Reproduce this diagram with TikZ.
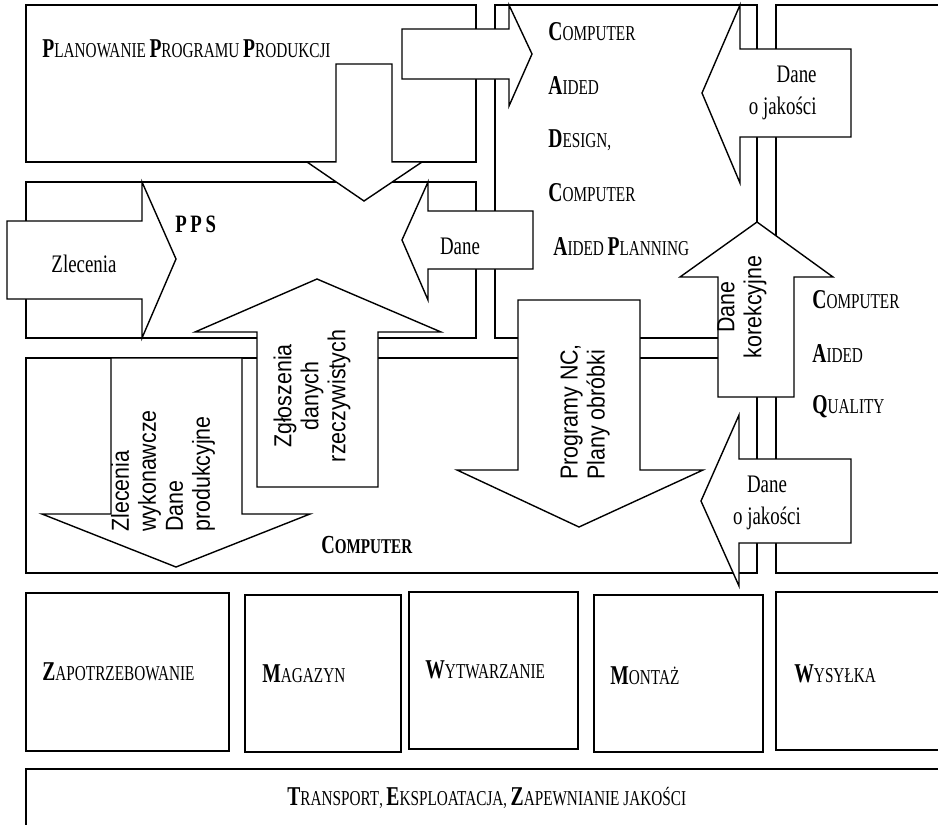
\documentclass[tikz,border=0pt]{standalone}
\usepackage{fontspec}
\setmainfont{Liberation Serif}
\newfontfamily\narrowrm[FakeStretch=0.75]{Liberation Serif}
\newfontfamily\capsrm[FakeStretch=0.72]{Liberation Serif}
\newfontfamily\narrowsf[FakeStretch=0.87]{Liberation Sans}
\usetikzlibrary{shadows}
\newcommand{\capword}[2]{{\fontsize{13.6}{16}\selectfont\bfseries #1}{\fontsize{10.6}{16}\selectfont #2}}
\newcommand{\boldcapword}[2]{{\bfseries\fontsize{13}{16}\selectfont #1}{\bfseries\fontsize{10.5}{16}\selectfont #2}}

\begin{document}
\begin{tikzpicture}[
    x=0.5pt, y=-0.5pt,
    box/.style={draw, fill=white, line width=0.7pt},
    shopbox/.style={box, drop shadow={shadow xshift=0.5pt, shadow yshift=-0.6pt, opacity=1, fill=black!60}},
    bigarrow/.style={draw, fill=white, line width=0.7pt, line join=miter},
    caps/.style={font=\capsrm, inner sep=0pt, anchor=base west},
    flow/.style={font=\narrowrm\fontsize{12.6}{16}\selectfont, inner sep=0pt},
    vflow/.style={font=\narrowsf\fontsize{12.3}{13.5}\selectfont, inner sep=0pt, rotate=90}
]
\clip (0,0) rectangle (938,825);

% systems
\draw[box] (26,5) rectangle (476,162);
\draw[box] (26,182) rectangle (476,338);
\draw[box] (495,5) rectangle (757,338);
\draw[box] (776,5) rectangle (960,573);
\draw[box] (26,358) rectangle (757,573);

% data flows
\draw[bigarrow] (336,64) -- (392,64) -- (392,162) -- (422,162) -- (364,201) -- (307,162) -- (336,162) -- cycle;
\draw[bigarrow] (402,29) -- (509,29) -- (509,5) -- (532,54) -- (509,106) -- (509,79) -- (402,79) -- cycle;
\draw[bigarrow] (7,221) -- (142,221) -- (142,182) -- (176,259) -- (142,338) -- (142,299) -- (7,299) -- cycle;
\draw[bigarrow] (533,211) -- (428,211) -- (428,182) -- (402,240) -- (428,300) -- (428,269) -- (533,269) -- cycle;
\draw[bigarrow] (257,487) -- (257,332) -- (195,332) -- (317,279) -- (441,332) -- (378,332) -- (378,487) -- cycle;
\draw[bigarrow] (111,358) -- (242,358) -- (242,514) -- (310,514) -- (176,567) -- (42,514) -- (111,514) -- cycle;
\draw[bigarrow] (518,300) -- (640,300) -- (640,470) -- (703,470) -- (579,527) -- (457,470) -- (518,470) -- cycle;
\draw[bigarrow] (851,49) -- (740,49) -- (740,5) -- (702,93) -- (740,183) -- (740,137) -- (851,137) -- cycle;
\draw[bigarrow] (718,397) -- (718,277) -- (680,277) -- (757,222) -- (833,277) -- (794,277) -- (794,397) -- cycle;
\draw[bigarrow] (851,459) -- (739,459) -- (739,415) -- (701,501) -- (739,586) -- (739,543) -- (851,543) -- cycle;

% shop floor
\draw[shopbox] (26,593) rectangle (229,751);
\draw[shopbox] (245,595) rectangle (401,752);
\draw[shopbox] (409,592) rectangle (578,749);
\draw[shopbox] (594,595) rectangle (763,752);
\draw[shopbox] (776,592) rectangle (960,750);
\draw[shopbox] (26,769) rectangle (960,860);

% labels
\node[caps] (planlbl) at (42,57) {\capword{P}{LANOWANIE} \capword{P}{ROGRAMU} \capword{P}{RODUKCJI}};
\node[font=\narrowrm\bfseries\fontsize{12.5}{14}\selectfont, inner sep=0pt, anchor=base west] (ppslbl) at (175,232) {P\hspace{1.8pt}P\hspace{1.8pt}S};
\node[caps] (cad1) at (548,40) {\capword{C}{OMPUTER}};
\node[caps] (cad2) at (548,94) {\capword{A}{IDED}};
\node[caps] (cad3) at (548,147) {\capword{D}{ESIGN,}};
\node[caps] (cad4) at (548,201) {\capword{C}{OMPUTER}};
\node[caps] (cad5) at (553,255) {\capword{A}{IDED} \capword{P}{LANNING}};
\node[caps] (caq1) at (812,308) {\capword{C}{OMPUTER}};
\node[caps] (caq2) at (812,362) {\capword{A}{IDED}};
\node[caps] (caq3) at (812,413) {\capword{Q}{UALITY}};
\node[caps] (complbl) at (321,553) {\boldcapword{C}{OMPUTER}};

\node[flow, anchor=base] (ordin) at (84,272) {Zlecenia};
\node[flow, anchor=base] (datain) at (460,254) {Dane};
\node[flow, align=right, anchor=north east] (qualup) at (817,66) {Dane\\o jakości};
\node[flow, align=center, anchor=north] (qualdown) at (767,476) {Dane\\o jakości};

\node[vflow, align=left, anchor=west] (ordlbl) at (163,532) {Zlecenia\\wykonawcze\\Dane\\produkcyjne};
\node[vflow, align=center] (replbl) at (312,396) {Zgłoszenia\\danych\\rzeczywistych};
\node[vflow, align=left, anchor=west] (nclbl) at (585,480) {Programy NC,\\Plany obróbki};
\node[vflow, align=center] (corrlbl) at (742,307) {Dane\\korekcyjne};

\node[caps] (demlbl) at (42,680) {\capword{Z}{APOTRZEBOWANIE}};
\node[caps] (storlbl) at (262,682) {\capword{M}{AGAZYN}};
\node[caps] (prodlbl) at (425,678) {\capword{W}{YTWARZANIE}};
\node[caps] (asmlbl) at (610,684) {\capword{M}{ONTAŻ}};
\node[caps] (shiplbl) at (794,682) {\capword{W}{YSYŁKA}};
\node[caps] (translbl) at (287,805) {\capword{T}{RANSPORT}, \capword{E}{KSPLOATACJA}, \capword{Z}{APEWNIANIE JAKOŚCI}};
\end{tikzpicture}
\end{document}
